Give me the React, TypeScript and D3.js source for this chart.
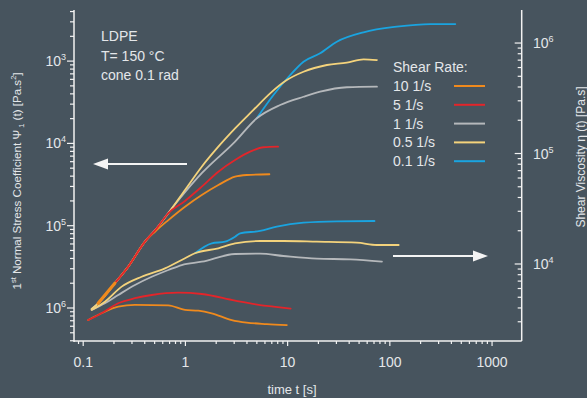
import React from 'react';
import * as d3 from 'd3';

// first normal stress coefficient Psi1(t) [Pa.s2] -> left axis, [t, value]
const psiRate10 = [[0.14,1140],[0.204,2000],[0.276,3180],[0.402,6400],[0.503,8450],[0.681,11700],[0.991,17000],[1.445,23600],[2.1,31200],[3.06,39400],[3.98,41300],[6.63,42200]];
const psiRate5 = [[0.204,2000],[0.276,3180],[0.402,6400],[0.524,9290],[0.681,14200],[0.991,20000],[1.445,29800],[2.1,45300],[3.06,62800],[4.29,79300],[5.8,89800],[8.07,91200]];
const psiRate1 = [[0.121,972],[0.14,1140],[0.204,2000],[0.276,3180],[0.402,6400],[0.524,9290],[0.656,13500],[0.991,25500],[1.445,43400],[3.06,105000],[4.99,202000],[8.45,293000],[14.3,369000],[20.8,425000],[38,481000],[74.8,489000]];
const psiRate05 = [[0.121,972],[0.14,1140],[0.204,2000],[0.276,3180],[0.402,6400],[0.524,9290],[0.681,14200],[0.991,27200],[1.445,52100],[2.1,91200],[3.06,152000],[4.63,255000],[6.74,406000],[9.82,589000],[14.3,743000],[24.2,897000],[38,957000],[55.3,1050000],[74.8,1030000]];
const psiRate01 = [[4.99,202000],[7.27,387000],[10.6,678000],[14.3,984000],[20.8,1245000],[30.3,1722000],[55.3,2240000],[117,2620000],[249,2820000],[437,2820000]];

// shear viscosity eta(t) [Pa.s] -> right axis
const etaRate10 = [[0.112,3110],[0.151,3580],[0.22,4110],[0.321,4260],[0.681,4230],[0.991,3840],[1.34,3780],[1.81,3580],[2.84,3110],[3.98,2950],[6.26,2860],[9.82,2800]];
const etaRate5 = [[0.112,3110],[0.151,3580],[0.22,4410],[0.321,4900],[0.468,5240],[0.851,5500],[1.445,5350],[3.06,4660],[5.38,4250],[7.27,4110],[10.7,3940]];
const etaRate1 = [[0.121,3840],[0.163,4410],[0.22,5240],[0.321,6460],[0.468,7670],[0.681,8830],[0.921,9790],[1.445,10490],[3.06,12310],[5.38,12400],[9.1,11810],[19.3,11170],[41,11030],[83.7,10490]];
const etaRate05 = [[0.121,3840],[0.163,4560],[0.238,6240],[0.373,7670],[0.631,9140],[0.991,11270],[1.24,12500],[2.1,13870],[3.06,15390],[5.38,16150],[9.1,16150],[19.3,15920],[47.6,15590],[74.8,14860],[122,14860]];
const etaRate01 = [[1.24,12500],[1.81,15390],[2.44,15920],[3.06,17650],[3.43,18960],[5.38,19900],[7.84,21780],[14.3,23670],[30.3,24340],[70.8,24490]];

const rates = ['10 1/s', '5 1/s', '1 1/s', '0.5 1/s', '0.1 1/s'];
const colors = ['#f08a1d', '#e3252a', '#b5b8bb', '#f4d37c', '#1aa4e0'];
const psiSeries = [psiRate10, psiRate5, psiRate1, psiRate05, psiRate01];
const etaSeries = [etaRate10, etaRate5, etaRate1, etaRate05, etaRate01];
const drawOrder = [4, 2, 3, 0, 1];

const xTickLabels = ['0.1', '1', '10', '100', '1000'];
const leftTickSup = ['6', '5', '4', '3']; // as printed, bottom to top
const rightTickSup = ['4', '5', '6'];

const W = 587, H = 398;
const left = 74, right = 521.7, top = 10, bottom = 341;
const bg = '#47545e';
const fg = '#e4e7ea';
const font = "'Liberation Sans', Arial, sans-serif";

const x = d3.scaleLog().domain([Math.pow(10, -1.09), Math.pow(10, 3.29)]).range([left, right]);
const yL = d3.scaleLog().domain([Math.pow(10, 2.599), Math.pow(10, 6.621)]).range([bottom, top]);
const yR = d3.scaleLog().domain([Math.pow(10, 3.303), Math.pow(10, 6.299)]).range([bottom, top]);

const isDecade = (v: number) => Math.abs(Math.log10(v) - Math.round(Math.log10(v))) < 1e-9;

export default function App() {
  const lineL = d3.line<number[]>().x(d => x(d[0])).y(d => yL(d[1])).curve(d3.curveMonotoneX);
  const lineR = d3.line<number[]>().x(d => x(d[0])).y(d => yR(d[1])).curve(d3.curveMonotoneX);
  const xTicks = x.ticks();
  const yLTicks = yL.ticks();
  const yRTicks = yR.ticks();
  const xMajor = xTicks.filter(isDecade);
  const yLMajor = yLTicks.filter(isDecade);
  const yRMajor = yRTicks.filter(isDecade);

  return (
    <svg width={W} height={H} style={{ position: 'absolute', left: 0, top: 0 }} fontFamily={font}>
      <rect width={W} height={H} fill={bg} />

      {/* axes */}
      <g stroke="#f2f2f2" strokeWidth={1.5}>
        <line x1={left} x2={left} y1={top} y2={bottom + 1} />
        <line x1={left} x2={right} y1={bottom} y2={bottom} />
        <line x1={right} x2={right} y1={top} y2={bottom} />
        {xTicks.map((t, i) => (
          <line key={'x' + i} x1={x(t)} x2={x(t)} y1={bottom} y2={bottom + (isDecade(t) ? 5 : 3)} strokeWidth={1.2} />
        ))}
        {yLTicks.map((t, i) => (
          <line key={'l' + i} x1={left} x2={left - (isDecade(t) ? 7 : 4)} y1={yL(t)} y2={yL(t)} strokeWidth={1.2} />
        ))}
        {yRTicks.map((t, i) => (
          <line key={'r' + i} x1={right} x2={right - (isDecade(t) ? 7 : 4)} y1={yR(t)} y2={yR(t)} strokeWidth={1.2} />
        ))}
      </g>

      <g fill={fg} fontSize={14}>
        {xMajor.map((t, i) => (
          <text key={'xl' + i} x={x(t)} y={367} textAnchor="middle">{xTickLabels[i]}</text>
        ))}
        {yLMajor.map((t, i) => (
          <text key={'ll' + i} x={66} y={yL(t) + 5} textAnchor="end">
            10<tspan fontSize={9} dy={-6}>{leftTickSup[i]}</tspan>
          </text>
        ))}
        {yRMajor.map((t, i) => (
          <text key={'rl' + i} x={533} y={yR(t) + 5}>
            10<tspan fontSize={9} dy={-6}>{rightTickSup[i]}</tspan>
          </text>
        ))}
        <text x={292} y={394} textAnchor="middle" fontSize={13}>time t [s]</text>
        <text transform="translate(21,181) rotate(-90)" textAnchor="middle" fontSize={11.6}>
          1<tspan fontSize={7.5} dy={-5}>st</tspan><tspan dy={5}> Normal Stress Coefficient Ψ</tspan><tspan fontSize={7.5} dy={3}> 1</tspan><tspan dy={-3}> (t) [Pa.s</tspan><tspan fontSize={7.5} dy={-5}>2</tspan><tspan dy={5}>]</tspan>
        </text>
        <text transform="translate(585,157) rotate(-90)" textAnchor="middle" fontSize={12}>Shear Viscosity η (t) [Pa.s]</text>

        <text x={101} y={41}>LDPE</text>
        <text x={101} y={61}>T= 150 °C</text>
        <text x={101} y={80}>cone 0.1 rad</text>
      </g>

      {/* legend */}
      <g fill={fg} fontSize={14}>
        <text x={393} y={72}>Shear Rate:</text>
        {rates.map((r, i) => {
          const ly = 86 + i * 18.8;
          return (
            <g key={'lg' + i}>
              <text x={393} y={ly + 5}>{r}</text>
              <line x1={454} x2={485} y1={ly} y2={ly} stroke={colors[i]} strokeWidth={2} />
            </g>
          );
        })}
      </g>

      {/* curves */}
      <g fill="none" strokeWidth={1.8} strokeLinejoin="round" strokeLinecap="round">
        {drawOrder.map(i => (
          <path key={'e' + i} d={lineR(etaSeries[i] as any) || ''} stroke={colors[i]} />
        ))}
        {drawOrder.map(i => (
          <path key={'p' + i} d={lineL(psiSeries[i] as any) || ''} stroke={colors[i]} />
        ))}
        {/* thicker start of the 10 1/s Psi1 curve */}
        <path d={lineL(psiRate10.slice(0, 2) as any) || ''} stroke={colors[0]} strokeWidth={3.2} />
      </g>

      {/* arrows */}
      <g fill="#f4f4f4" stroke="#f4f4f4">
        <line x1={187} x2={104} y1={164} y2={164} strokeWidth={2} />
        <path d="M93,164 L108,158.5 L108,169.5 Z" stroke="none" />
        <line x1={393} x2={476} y1={256} y2={256} strokeWidth={2} />
        <path d="M488,256 L473,250.5 L473,261.5 Z" stroke="none" />
      </g>
    </svg>
  );
}
